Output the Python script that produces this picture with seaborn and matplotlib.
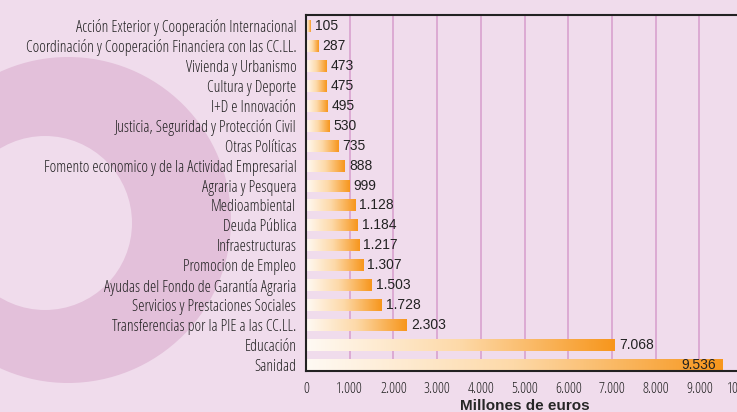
import matplotlib.pyplot as plt
import numpy as np
import pandas as pd
import seaborn as sns
from matplotlib.colors import LinearSegmentedColormap
from matplotlib.patches import Circle

# datos
categorias = [
    "Acción Exterior y Cooperación Internacional",
    "Coordinación y Cooperación Financiera con las CC.LL.",
    "Vivienda y Urbanismo",
    "Cultura y Deporte",
    "I+D e Innovación",
    "Justicia, Seguridad y Protección Civil",
    "Otras Políticas",
    "Fomento economico y de la Actividad Empresarial",
    "Agraria y Pesquera",
    "Medioambiental",
    "Deuda Pública",
    "Infraestructuras",
    "Promocion de Empleo",
    "Ayudas del Fondo de Garantía Agraria",
    "Servicios y Prestaciones Sociales",
    "Transferencias por la PIE a las CC.LL.",
    "Educación",
    "Sanidad",
]
millones = [105, 287, 473, 475, 495, 530, 735, 888, 999, 1128, 1184, 1217,
            1307, 1503, 1728, 2303, 7068, 9536]
ticks_x = [0, 1000, 2000, 3000, 4000, 5000, 6000, 7000, 8000, 9000, 10000]

df = pd.DataFrame({"categoria": categorias, "millones": millones})

# estilo
sns.set_theme(style="white")
plt.rcParams['font.family'] = ['Open Sans', 'DejaVu Sans']
plt.rcParams['font.stretch'] = 'condensed'

fondo = '#f0dcec'
anillo = '#e3c0da'
rejilla = '#dcaad3'
degradado = LinearSegmentedColormap.from_list(
    'naranja', ['#fffaf4', '#fdd9a8', '#f7961c'])
normal = ['Liberation Sans', 'DejaVu Sans']

W, H = 737, 412
fig = plt.figure(figsize=(W / 100, H / 100), dpi=100, facecolor=fondo)

# decoracion: anillo de fondo
deco = fig.add_axes([0, 0, 1, 1], zorder=-1)
deco.set_xlim(0, W)
deco.set_ylim(H, 0)
deco.axis('off')
deco.add_patch(Circle((68, 220), 163, color=anillo, lw=0))
deco.add_patch(Circle((45, 223), 87, color=fondo, lw=0))

# ejes principales (el borde derecho queda fuera de la figura)
x0, y0, y1 = 306, 15, 371
ax = fig.add_axes([x0 / W, 1 - y1 / H, 437 / W, (y1 - y0) / H])
ax.set_facecolor(fondo)

sns.barplot(data=df, x='millones', y='categoria', orient='h', ax=ax,
            width=0.6, color='#f7961c', saturation=1, zorder=2)

# degradado en cada barra
grad = np.linspace(0, 1, 256).reshape(1, -1)
for p in ax.patches:
    x, y = p.get_x(), p.get_y()
    w, h = p.get_width(), p.get_height()
    ax.imshow(grad, cmap=degradado, aspect='auto', zorder=2,
              extent=[x, x + w, y + h, y], interpolation='bicubic')
    p.set_facecolor('none')
    p.set_edgecolor('none')

ax.set_xlim(0, 10000)
ax.set_ylim(len(categorias) - 1 + 0.3, -0.55)

# etiquetas de valor
for i, v in enumerate(millones):
    txt = f"{v:,}".replace(',', '.')
    if v > 9000:
        ax.annotate(txt, (v, i), xytext=(-5, 0), textcoords='offset points',
                    ha='right', va='center', fontsize=10, family=normal,
                    fontstretch='normal', color='#222222')
    else:
        ax.annotate(txt, (v, i), xytext=(3, 0), textcoords='offset points',
                    ha='left', va='center', fontsize=10, family=normal,
                    fontstretch='normal', color='#222222')

ax.set_xticks(ticks_x)
ax.set_xticklabels([f"{t:,}".replace(',', '.') for t in ticks_x])
ax.xaxis.grid(True, color=rejilla, lw=1.4, zorder=0)
ax.set_axisbelow(True)
ax.tick_params(axis='both', length=0, colors='#222222')
ax.tick_params(axis='y', pad=7, labelsize=11.3)
ax.tick_params(axis='x', pad=8, labelsize=10.7)

ax.set_ylabel('')
ax.set_xlabel('Millones de euros', fontsize=11, fontweight='bold',
              family=normal, fontstretch='normal', labelpad=1)

for s in ['left', 'top', 'bottom']:
    ax.spines[s].set_color('#222222')
    ax.spines[s].set_linewidth(1.5)
ax.spines['right'].set_visible(False)

plt.savefig('out.png', dpi=100, facecolor=fondo)
